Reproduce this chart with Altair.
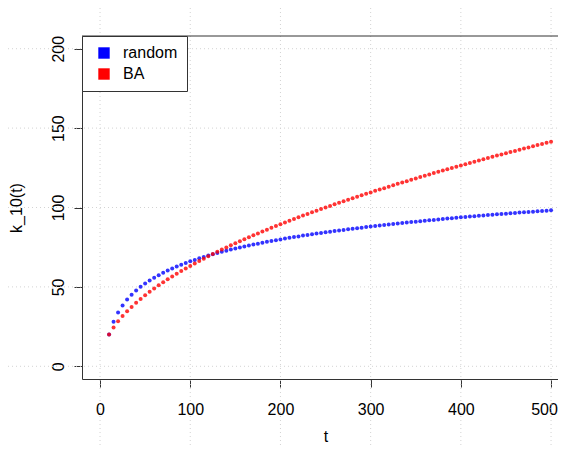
import altair as alt
import pandas as pd

# time steps (x values)
t_values = list(range(10, 505, 5))

# k_10(t)
random_vals = [
    20.0, 28.1, 33.9, 38.3, 42.0, 45.1, 47.7, 50.1, 52.2, 54.1,
    55.8, 57.4, 58.9, 60.3, 61.6, 62.8, 63.9, 65.0, 66.1, 67.0,
    68.0, 68.8, 69.7, 70.5, 71.3, 72.1, 72.8, 73.5, 74.2, 74.8,
    75.5, 76.1, 76.7, 77.2, 77.8, 78.4, 78.9, 79.4, 79.9, 80.4,
    80.9, 81.4, 81.8, 82.3, 82.7, 83.1, 83.6, 84.0, 84.4, 84.8,
    85.2, 85.5, 85.9, 86.3, 86.6, 87.0, 87.3, 87.7, 88.0, 88.4,
    88.7, 89.0, 89.3, 89.6, 89.9, 90.2, 90.5, 90.8, 91.1, 91.4,
    91.7, 91.9, 92.2, 92.5, 92.8, 93.0, 93.3, 93.5, 93.8, 94.0,
    94.3, 94.5, 94.8, 95.0, 95.2, 95.5, 95.7, 95.9, 96.1, 96.4,
    96.6, 96.8, 97.0, 97.2, 97.4, 97.6, 97.8, 98.0, 98.2,
]
ba_vals = [
    20.0, 24.5, 28.3, 31.6, 34.6, 37.4, 40.0, 42.4, 44.7, 46.9,
    49.0, 51.0, 52.9, 54.8, 56.6, 58.3, 60.0, 61.6, 63.2, 64.8,
    66.3, 67.8, 69.3, 70.7, 72.1, 73.5, 74.8, 76.2, 77.5, 78.7,
    80.0, 81.2, 82.5, 83.7, 84.9, 86.0, 87.2, 88.3, 89.4, 90.6,
    91.7, 92.7, 93.8, 94.9, 95.9, 97.0, 98.0, 99.0, 100.0, 101.0,
    102.0, 103.0, 103.9, 104.9, 105.8, 106.8, 107.7, 108.6, 109.5, 110.5,
    111.4, 112.2, 113.1, 114.0, 114.9, 115.8, 116.6, 117.5, 118.3, 119.2,
    120.0, 120.8, 121.7, 122.5, 123.3, 124.1, 124.9, 125.7, 126.5, 127.3,
    128.1, 128.8, 129.6, 130.4, 131.1, 131.9, 132.7, 133.4, 134.2, 134.9,
    135.6, 136.4, 137.1, 137.8, 138.6, 139.3, 140.0, 140.7, 141.4,
]
series_names = ["random", "BA"]
series_colors = ["#0000FF", "#FF0000"]

x_ticks = [0, 100, 200, 300, 400, 500]
y_ticks = [0, 50, 100, 150, 200]

W, H = 476, 343
PAD = {"left": 74, "top": 28, "right": 0, "bottom": 67}
FONT = "Liberation Sans"

rows = []
for name, vals in zip(series_names, [random_vals, ba_vals]):
    for t, k in zip(t_values, vals):
        rows.append({"t": t, "k": k, "series": name})
df = pd.DataFrame(rows)

xenc = alt.X(
    "t:Q",
    scale=alt.Scale(domain=[-20, 507.7], nice=False, zero=False),
    axis=alt.Axis(
        values=x_ticks, title="t", grid=False, tickSize=8, labelPadding=27,
        labelBaseline="alphabetic", labelAlign="center",
        labelOffset={"condition": {"test": "datum.value == 500", "value": -7}, "value": 0},
        titleX=243.5, titleY=62, titleBaseline="alphabetic", titleAlign="center",
    ),
)
yenc = alt.Y(
    "k:Q",
    scale=alt.Scale(domain=[-8, 208], nice=False, zero=False),
    axis=alt.Axis(
        values=y_ticks, title="k_10(t)", grid=False, tickSize=8, labelPadding=10.5,
        labelAngle=270, labelBaseline="alphabetic", labelAlign="center",
        titleAngle=270, titleX=-61, titleY=H / 2, titleBaseline="alphabetic",
        titleAlign="center",
    ),
)

grid_style = dict(color="#D3D3D3", strokeDash=[1, 3], strokeWidth=1)

hgrid = alt.Chart(pd.DataFrame({"k": y_ticks})).mark_rule(**grid_style).encode(
    y=yenc, x=alt.value(-PAD["left"]), x2=alt.value(W)
)
vgrid = alt.Chart(pd.DataFrame({"t": x_ticks})).mark_rule(**grid_style).encode(
    x=xenc, y=alt.value(-PAD["top"]), y2=alt.value(H + PAD["bottom"])
)
top_border = alt.Chart(pd.DataFrame({"a": [0]})).mark_rule(
    color="#333333", strokeWidth=1
).encode(x=alt.value(0), x2=alt.value(W), y=alt.value(0))

points = alt.Chart(df).mark_circle(size=16, opacity=0.8).encode(
    x=xenc,
    y=yenc,
    color=alt.Color(
        "series:N",
        scale=alt.Scale(domain=series_names, range=series_colors),
        legend=alt.Legend(
            title=None, orient="none", legendX=0, legendY=0,
            fillColor="white", strokeColor="#333333", padding=9,
            symbolType="square", symbolSize=130, symbolOffset=5,
            symbolOpacity=1, symbolStrokeWidth=0, labelOffset=11,
            labelFontSize=16, labelFont=FONT, labelColor="#000000",
            rowPadding=5, cornerRadius=0,
        ),
    ),
    order=alt.Order("order_key:Q"),
).transform_calculate(order_key="datum.series == 'BA' ? 1 : 0")

chart = alt.layer(hgrid, vgrid, top_border, points).properties(
    width=W, height=H,
    autosize=alt.AutoSizeParams(type="none"),
    padding=PAD,
).configure_view(stroke=None).configure_axis(
    labelFont=FONT, titleFont=FONT, labelFontSize=16, titleFontSize=16,
    titleFontWeight="normal", labelColor="#000000", titleColor="#000000",
    domainColor="#333333", tickColor="#333333", domainWidth=1, tickWidth=1,
)

chart.save("out.html", embed_options={"renderer": "svg", "actions": False})
